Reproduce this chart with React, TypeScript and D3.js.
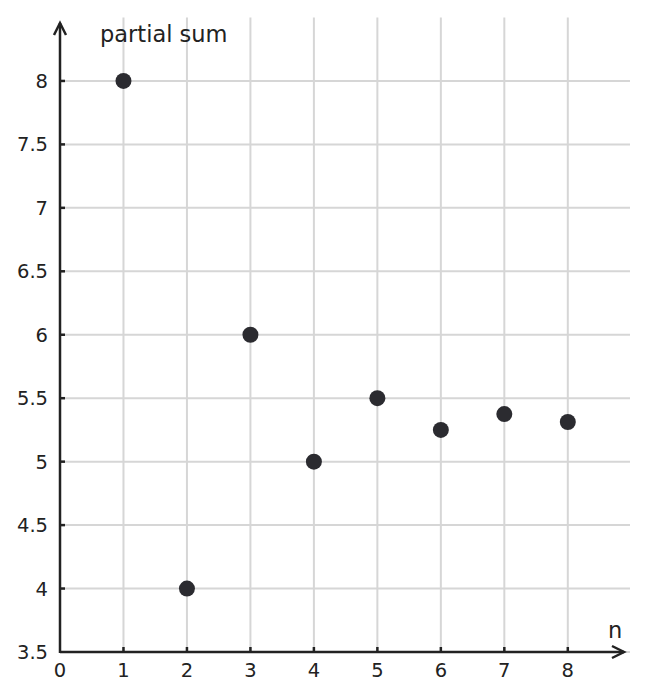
import { useEffect, useRef } from 'react';
import * as d3 from 'd3';

const nValues = [1, 2, 3, 4, 5, 6, 7, 8];
const partialSums = [8, 4, 6, 5, 5.5, 5.25, 5.375, 5.3125];
const xTicks = [0, 1, 2, 3, 4, 5, 6, 7, 8];
const yTicks = [3.5, 4, 4.5, 5, 5.5, 6, 6.5, 7, 7.5, 8];

export default function App() {
  const svgRef = useRef<SVGSVGElement>(null);

  useEffect(() => {
    if (!svgRef.current) return;
    const width = 649;
    const height = 700;
    const font = 'DejaVu Sans, sans-serif';
    const axisColor = '#222';
    const gridColor = '#d6d6d6';

    const svg = d3.select(svgRef.current);
    svg.selectAll('*').remove();
    svg.attr('width', width).attr('height', height);

    const x = d3.scaleLinear().domain([0, 8.98]).range([60, 630]);
    const y = d3.scaleLinear().domain([3.5, 8.5]).range([652, 17.5]);

    // grid
    const grid = svg.append('g');
    grid.selectAll('line.v')
      .data(nValues)
      .join('line')
      .attr('x1', d => x(d)).attr('x2', d => x(d))
      .attr('y1', y(8.5)).attr('y2', y(3.5))
      .attr('stroke', gridColor).attr('stroke-width', 2);
    grid.selectAll('line.h')
      .data(yTicks)
      .join('line')
      .attr('x1', x(0)).attr('x2', x(8.98))
      .attr('y1', d => y(d)).attr('y2', d => y(d))
      .attr('stroke', gridColor).attr('stroke-width', 2);

    // axes
    const x0 = x(0);
    const y0 = y(3.5);
    svg.append('line')
      .attr('x1', x0).attr('x2', 624)
      .attr('y1', y0).attr('y2', y0)
      .attr('stroke', axisColor).attr('stroke-width', 2.5);
    svg.append('path')
      .attr('d', `M612,${y0 - 6} L624,${y0} L612,${y0 + 6}`)
      .attr('fill', 'none').attr('stroke', axisColor).attr('stroke-width', 2.5);
    svg.append('line')
      .attr('x1', x0).attr('x2', x0)
      .attr('y1', y0 + 1).attr('y2', 23)
      .attr('stroke', axisColor).attr('stroke-width', 2.5);
    svg.append('path')
      .attr('d', `M${x0 - 6},35 L${x0},23 L${x0 + 6},35`)
      .attr('fill', 'none').attr('stroke', axisColor).attr('stroke-width', 2.5);

    // ticks
    svg.selectAll('line.xt')
      .data(nValues)
      .join('line')
      .attr('x1', d => x(d)).attr('x2', d => x(d))
      .attr('y1', y0).attr('y2', y0 - 5)
      .attr('stroke', axisColor).attr('stroke-width', 2.5);
    svg.selectAll('line.yt')
      .data(yTicks.slice(1))
      .join('line')
      .attr('x1', x0).attr('x2', x0 + 5)
      .attr('y1', d => y(d)).attr('y2', d => y(d))
      .attr('stroke', axisColor).attr('stroke-width', 2.5);

    svg.selectAll('text.xl')
      .data(xTicks)
      .join('text')
      .attr('x', d => x(d))
      .attr('y', 677)
      .attr('text-anchor', 'middle')
      .attr('font-family', font).attr('font-size', 19.5).attr('fill', '#222')
      .text(d => String(d));
    svg.selectAll('text.yl')
      .data(yTicks)
      .join('text')
      .attr('x', 48)
      .attr('y', d => y(d) + 7)
      .attr('text-anchor', 'end')
      .attr('font-family', font).attr('font-size', 19.5).attr('fill', '#222')
      .text(d => String(d));

    svg.append('text')
      .attr('x', 100).attr('y', 42)
      .attr('font-family', font).attr('font-size', 22.5).attr('fill', '#222')
      .text('partial sum');
    svg.append('text')
      .attr('x', 608).attr('y', 638)
      .attr('font-family', font).attr('font-size', 22.5).attr('fill', '#222')
      .text('n');

    // points
    svg.selectAll('circle')
      .data(nValues.map((n, i) => ({ n, s: partialSums[i] })))
      .join('circle')
      .attr('cx', d => x(d.n))
      .attr('cy', d => y(d.s))
      .attr('r', 8)
      .attr('fill', '#2b2b30');
  }, []);

  return (
    <svg ref={svgRef} style={{ position: 'absolute', top: 0, left: 0, display: 'block' }} />
  );
}
